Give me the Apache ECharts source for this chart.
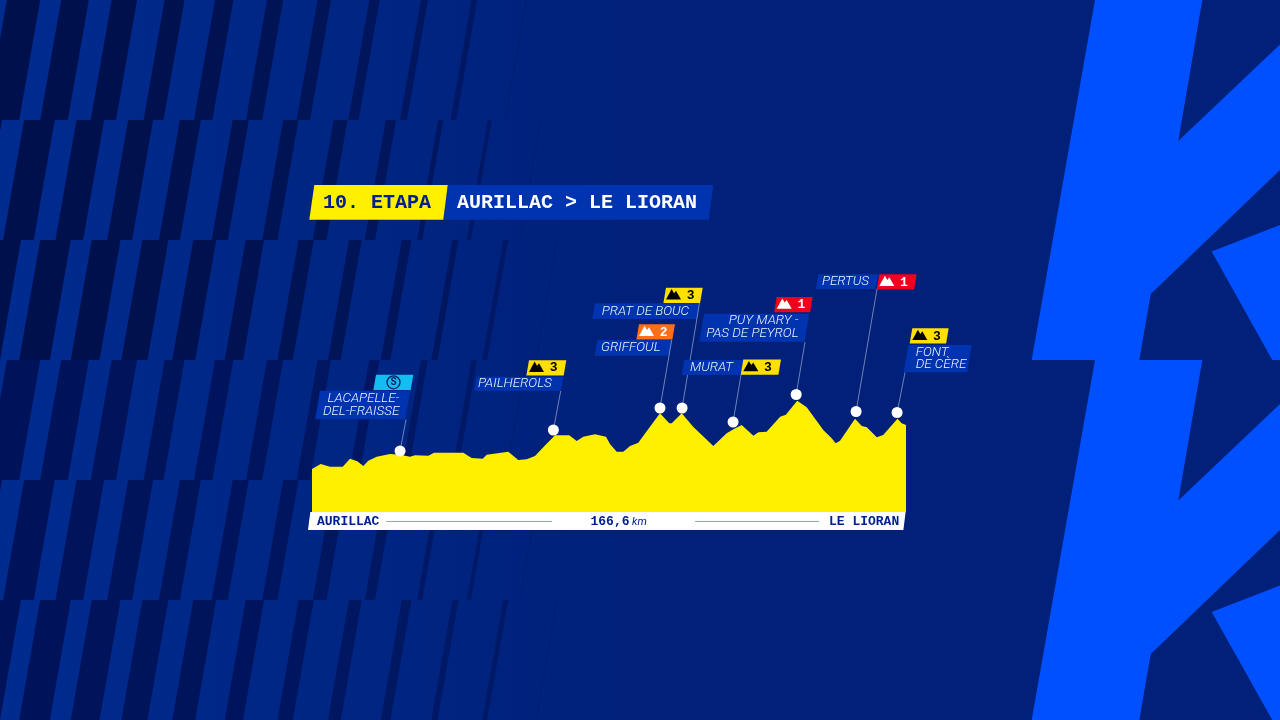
<!DOCTYPE html>
<html>
<head>
<meta charset="utf-8">
<style>html,body{margin:0;padding:0;background:#00207a}#chart{width:1280px;height:720px}</style>
<script src="https://cdn.jsdelivr.net/npm/echarts@6/dist/echarts.min.js"></script>
</head>
<body>
<div id="chart"></div>
<script>
// Stage profile: distance in km, altitude in metres
const routeKm = [0,2.44,5.05,8.61,10.66,12.71,14.39,15.79,18.15,21.88,24.68,27.49,28.89,32.62,34.22,42.43,44.79,47.88,49.0,55.06,57.86,60.22,62.54,64.87,68.15,72.16,74.24,76.09,79.37,82.46,83.58,85.46,87.31,89.19,91.52,92.47,97.6,100.2,100.9,103.7,106.9,112.55,116.3,118.2,120.5,123.8,125.2,127.5,131.3,132.9,136.1,138.75,143.4,145.75,146.9,148.1,152.3,154.2,155.6,158.4,160.2,164.2,165.4,166.6];
const routeAltitude = [602,672,634,634,746,710,644,718,774,812,802,774,794,788,830,830,756,746,802,844,728,738,784,906,1074,1074,994,1054,1088,1054,952,844,844,924,970,1036,1382,1242,1242,1382,1194,924,1102,1158,1218,1068,1116,1124,1334,1362,1558,1466,1148,1032,962,998,1306,1204,1186,1046,1078,1306,1242,1218];

// Sprint and climbs along the route
const climbNames = [['LACAPELLE-','DEL-FRAISSE'],['PAILHEROLS'],['GRIFFOUL'],['PRAT DE BOUC'],['MURAT'],['PUY MARY -','PAS DE PEYROL'],['PERTUS'],['FONT','DE CÈRE']];
const climbCategories = ['S','3','2','3','3','1','1','3'];
const climbKm = [24.7,67.7,97.6,103.8,118.1,135.8,152.6,164.1];
const climbAltitude = [854,1148,1456,1456,1260,1645,1407,1393];

const stageTitle = '10. ETAPA';
const stageRoute = 'AURILLAC > LE LIORAN';
const startName = 'AURILLAC';
const finishName = 'LE LIORAN';
const stageLength = '166,6';
const stageUnit = 'km';

const NAVY = '#00207a', ROYAL = '#0033b0', BRIGHT = '#0050ff', YELLOW = '#fff000', INK = '#002090';
const categoryColors = {S:'#12bdf2','3':'#ffe000','2':'#ff6f1a','1':'#f0001e'};

// Flag and caption placement around each marker
const flagLayout = [
  {flag:[376,374.7,37.3], box:[320,390.7,90,28.6], text:{x:399.3,ys:[398.3,411.3],align:'right'}, lead:[406,419.5]},
  {flag:[529,360.2,37.3], box:[476.7,376.7,86.6,14], text:{x:551.7,ys:[383.7],align:'right'}, lead:[560.7,391]},
  {flag:[639,324.3,36], box:[597.3,340,74.4,15.7], text:{x:660.5,ys:[347.8],align:'right'}, lead:[671.7,340]},
  {flag:[666,287.7,36.7], box:[595,303.3,104.3,15.7], text:{x:689,ys:[311.2],align:'right'}, lead:[699.5,303]},
  {flag:[743.3,359.5,37.7], box:[684.3,360,59,15], text:{x:733,ys:[367.5],align:'right'}, lead:[741,375]},
  {flag:[776.7,297,36], box:[704,313.7,105.3,28], text:{x:798.5,ys:[320.5,334],align:'right'}, lead:[805,342]},
  {flag:[879.3,274.3,37.4], box:[818.3,274.3,60,14.7], text:{x:869,ys:[281.7],align:'right'}, lead:[877,289]},
  {flag:[912.3,328.3,36.4], box:[908.3,345,63.4,27.3], text:{x:915.7,ys:[352.3,365],align:'left'}, lead:[905,372.5]}
];

// Slanted dark stripes per band: left and right edge at the top of the band
const stripeBands = [
  {left:[6.9,61.2,111.7,164.6,215,267,317.6,369.3,421,471.5,526],
   right:[40.2,88.8,137,184.5,233.4,283.2,331,379.6,427.9,477.2,526.6]},
  {left:[-28,24.1,76.5,128.2,179.9,232.7,283.2,333.7,385.8,438.2,487.9,540.4],
   right:[2,54.7,104.1,153.1,200.9,248.8,298.5,347.5,396.1,443.2,491.8,541]},
  {left:[-12,40.2,91.8,142.4,193.3,245.7,298.5,349,401.8,452.4,503.3,556.8],
   right:[21,70.8,120.5,168.4,216.2,264,313.8,361.7,411.4,458.5,508.2,557.4]}
];
const BAND = 120, SLANT = 21;

// Lightning-shaped brand mark on the right
const brandShapes = [
  [[1095,0],[1202.3,0],[1178.3,141],[1280,44.5],[1280,170],[1150.7,294],[1139.3,360],[1202.3,360],[1178.3,500.5],[1280,404],[1280,530],[1150.7,654],[1139.3,720],[1031.7,720],[1095,360],[1031.7,360]],
  [[1211.7,251.6],[1280,225],[1280,360],[1272.3,360]],
  [[1211.7,612],[1280,585.4],[1280,720],[1272.3,720]]
];

function poly(points, fill, z, extra) {
  return Object.assign({type:'polygon', silent:true, z:z, shape:{points:points}, style:{fill:fill}}, extra || {});
}

function backgroundElements() {
  const els = [];
  els.push({type:'rect', silent:true, z:0, shape:{x:0,y:0,width:1280,height:720}, style:{fill:NAVY}});
  // Brighter field behind the stripes, fading out towards the middle
  els.push({type:'rect', silent:true, z:1, shape:{x:0,y:0,width:620,height:720}, style:{
    fill:new echarts.graphic.LinearGradient(0,0,1,0,[
      {offset:0,color:'#002b8f'},{offset:0.5,color:'#002684'},{offset:1,color:NAVY}
    ])}});
  for (let row = 0; row < 6; row++) {
    const band = stripeBands[row % 3], top = row * BAND, bottom = top + BAND;
    const start = row < 3 ? '#00104c' : '#00135a';
    band.left.forEach((l, i) => {
      const r = band.right[i];
      const t = i / (band.left.length - 1);
      const fill = echarts.color.lerp(t * t, [start, '#001a6a']);
      els.push(poly([[l,top],[r,top],[r-SLANT,bottom],[l-SLANT,bottom]], fill, 2));
    });
  }
  brandShapes.forEach(s => els.push(poly(s, BRIGHT, 3)));
  return els;
}

function headerAndFooterElements() {
  const text = (x, y, t, fill, font, align) => ({type:'text', silent:true, z:20,
    style:{x:x, y:y, text:t, fill:fill, font:font, align:align || 'left', verticalAlign:'middle'}});
  const mono = 'bold 20px "Liberation Mono", monospace';
  const small = 'bold 13px "Liberation Mono", monospace';
  const rule = (x1, x2) => ({type:'line', silent:true, z:20, shape:{x1:x1,y1:521.5,x2:x2,y2:521.5}, style:{stroke:'#8ea6dc',lineWidth:1}});
  return [
    poly([[448,185],[713.3,185],[708.7,219.7],[443.3,219.7]], ROYAL, 19),
    poly([[314.3,185],[447.7,185],[443.3,219.7],[309.3,219.7]], '#fff000', 20),
    text(323, 203, stageTitle, INK, mono),
    text(457, 203, stageRoute, '#ffffff', mono),
    poly([[310.3,512],[905.6,512],[903.4,530],[308,530]], '#ffffff', 19),
    text(317, 522, startName, INK, small),
    rule(386, 552),
    text(590.5, 522, stageLength, INK, small),
    text(632, 522, stageUnit, INK, 'italic 11px Roboto, sans-serif'),
    rule(695, 819),
    text(829, 522, finishName, INK, small)
  ];
}

// Two peaks icon, or the sprint badge, inside a flag
function flagContent(cat, x, y) {
  const color = (cat === '3') ? '#000000' : '#ffffff';
  if (cat === 'S') {
    return [
      {type:'circle', shape:{cx:x+17.5,cy:y+7.6,r:6.5}, style:{fill:'none',stroke:'#00205f',lineWidth:1.3}},
      {type:'text', style:{x:x+17.5,y:y+8,text:'S',fill:'#00205f',font:'bold 10px Roboto, sans-serif',align:'center',verticalAlign:'middle'}}
    ];
  }
  return [
    {type:'polygon', shape:{points:[[x,y+11.8],[x+5.6,y+1.4],[x+8,y+5.6],[x+10,y+3],[x+15,y+11.8]]}, style:{fill:color}},
    {type:'text', style:{x:x+24.7,y:y+8,text:cat,fill:color,font:'bold 13px "Liberation Mono", monospace',align:'center',verticalAlign:'middle'}}
  ];
}

function renderClimb(params, api) {
  const i = params.dataIndex, layout = flagLayout[i];
  const p = api.coord([api.value(0), api.value(1)]);
  const cat = climbCategories[i], names = climbNames[i];
  const [fx, fy, fw] = layout.flag, [bx, by, bw, bh] = layout.box;
  const skew = h => h * 0.17;
  const children = [
    {type:'polygon', shape:{points:[[bx,by],[bx+bw,by],[bx+bw-skew(bh),by+bh],[bx-skew(bh),by+bh]]}, style:{fill:ROYAL}},
    {type:'polygon', shape:{points:[[fx,fy],[fx+fw,fy],[fx+fw-2.6,fy+15.2],[fx-2.6,fy+15.2]]}, style:{fill:categoryColors[cat]}},
    {type:'line', shape:{x1:layout.lead[0],y1:layout.lead[1],x2:p[0],y2:p[1]}, style:{stroke:'rgba(255,255,255,0.55)',lineWidth:0.8}}
  ].concat(flagContent(cat, fx, fy));
  names.forEach((n, k) => children.push({type:'text', style:{
    x:layout.text.x, y:layout.text.ys[k], text:n, fill:'#f2f5ff',
    font:'italic 300 13.4px Roboto, sans-serif', align:layout.text.align, verticalAlign:'middle'}}));
  return {type:'group', children:children};
}

const chart = echarts.init(document.getElementById('chart'), null, {renderer:'canvas'});
chart.setOption({
  animation:false,
  backgroundColor:NAVY,
  grid:{left:312, top:212, width:594, height:300},
  xAxis:{type:'value', min:0, max:166.6, show:false},
  yAxis:{type:'value', min:0, max:4200, show:false},
  graphic:{elements:backgroundElements().concat(headerAndFooterElements())},
  series:[
    {type:'line', z:10, symbol:'none', silent:true,
     data:routeKm.map((km, i) => [km, routeAltitude[i]]),
     lineStyle:{width:0}, areaStyle:{color:YELLOW, opacity:1}},
    {type:'custom', z:11, silent:true, clip:false,
     data:climbKm.map((km, i) => [km, climbAltitude[i]]),
     encode:{x:0, y:1}, renderItem:renderClimb},
    {type:'scatter', z:12, silent:true, symbol:'circle', symbolSize:11,
     data:climbKm.map((km, i) => [km, climbAltitude[i]]),
     itemStyle:{color:'#ffffff', opacity:1}}
  ]
});
</script>
</body>
</html>
